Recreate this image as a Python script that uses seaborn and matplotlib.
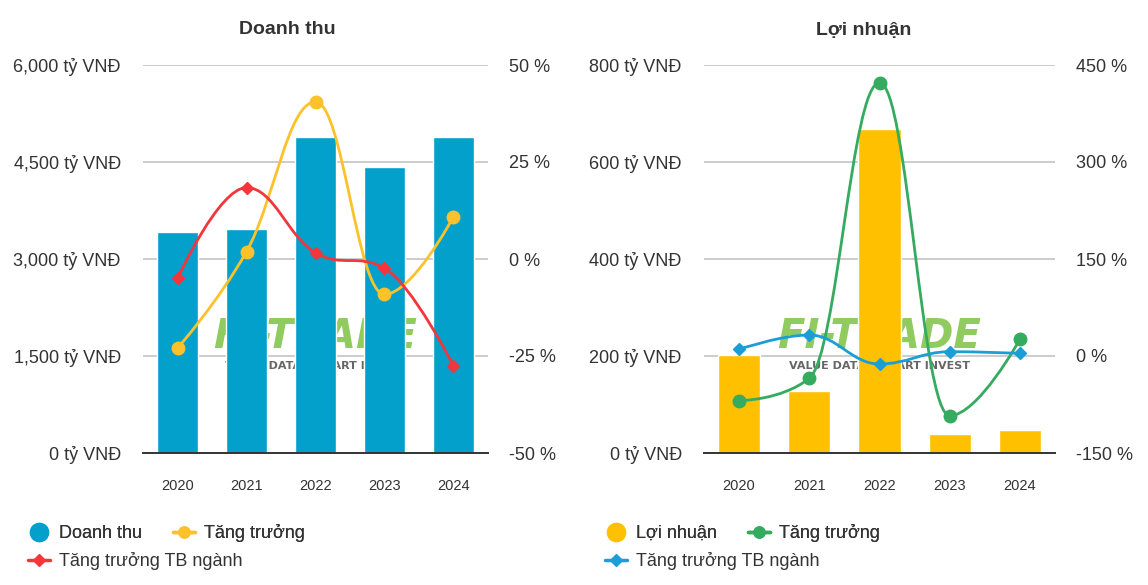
import numpy as np
import matplotlib
matplotlib.use("Agg")
import matplotlib.pyplot as plt
import seaborn as sns
from matplotlib.path import Path
from matplotlib.patches import PathPatch
from matplotlib.lines import Line2D
from matplotlib.ticker import FuncFormatter

# Data
years = ['2020', '2021', '2022', '2023', '2024']
doanh_thu = [3420, 3465, 4880, 4420, 4880]          # tỷ VNĐ
dt_tang_truong = [-23.0, 1.9, 40.5, -9.1, 10.9]     # %
dt_tb_nganh = [-5.0, 18.4, 1.6, -2.4, -27.6]        # %
loi_nhuan = [202, 128, 669, 38.5, 47.4]             # tỷ VNĐ
ln_tang_truong = [-69.0, -34.5, 422.6, -92.3, 25.8]  # %
ln_tb_nganh = [10.3, 32.5, -12.4, 6.7, 4.1]         # %

TEXT = '#333333'
GRID = '#c4c4c4'


def spline_path(xs, ys, s=1.5):
    # cubic bezier path through the points, same smoothing rule as a Highcharts spline
    n = len(xs)
    left = [None] * n
    right = [None] * n
    d = s + 1
    for i in range(1, n - 1):
        x, y = xs[i], ys[i]
        lx, ly = xs[i - 1], ys[i - 1]
        nx, ny = xs[i + 1], ys[i + 1]
        lcx, lcy = (s * x + lx) / d, (s * y + ly) / d
        rcx, rcy = (s * x + nx) / d, (s * y + ny) / d
        if rcx != lcx:
            corr = (rcy - lcy) * (rcx - x) / (rcx - lcx) + y - rcy
            lcy += corr
            rcy += corr
        if lcy > ly and lcy > y:
            lcy = max(ly, y)
            rcy = 2 * y - lcy
        elif lcy < ly and lcy < y:
            lcy = min(ly, y)
            rcy = 2 * y - lcy
        if rcy > ny and rcy > y:
            rcy = max(ny, y)
            lcy = 2 * y - rcy
        elif rcy < ny and rcy < y:
            rcy = min(ny, y)
            lcy = 2 * y - rcy
        left[i] = (lcx, lcy)
        right[i] = (rcx, rcy)
    verts = [(xs[0], ys[0])]
    codes = [Path.MOVETO]
    for i in range(1, n):
        c1 = right[i - 1] or (xs[i - 1], ys[i - 1])
        c2 = left[i] or (xs[i], ys[i])
        verts += [c1, c2, (xs[i], ys[i])]
        codes += [Path.CURVE4] * 3
    return Path(verts, codes)


def draw_panel(fig, rect, title, title_x, bars, bar_color, bar_label, ylim, yticks,
               g1, g1_color, g2, g2_color, ylim2, yticks2, legend_x):
    ax = fig.add_axes(rect)
    ax2 = ax.twinx()
    xs = np.arange(len(years))

    # watermark behind the bars
    ax.text(0.5, 0.248, 'FI-TRADE', transform=ax.transAxes, ha='center', va='bottom',
            fontsize=29, fontweight='heavy', fontstyle='italic', color='#7cc242',
            alpha=0.85, zorder=0, family='DejaVu Sans')
    ax.text(0.5, 0.236, 'VALUE DATA - SMART INVEST', transform=ax.transAxes,
            ha='center', va='top', fontsize=8, fontweight='bold', color='#666666',
            zorder=0, family='DejaVu Sans')

    sns.barplot(x=years, y=bars, ax=ax, color=bar_color, saturation=1,
                width=0.6, zorder=2)
    ax.set_xlim(-0.5, len(years) - 0.5)
    ax.set_ylim(*ylim)
    ax.set_yticks(yticks)
    ax.yaxis.set_major_formatter(FuncFormatter(lambda v, p: f'{v:,.0f} tỷ VNĐ'))
    ax.grid(axis='y', color=GRID, lw=1.2, zorder=1)
    ax.grid(axis='x', visible=False)
    ax.set_axisbelow(True)
    ax.set_xlabel('')
    ax.set_ylabel('')
    for sp in ['top', 'left', 'right']:
        ax.spines[sp].set_visible(False)
    ax.spines['bottom'].set_color('#333333')
    ax.spines['bottom'].set_linewidth(1.4)
    ax.tick_params(axis='y', length=0, pad=16, labelsize=13, labelcolor=TEXT)
    ax.tick_params(axis='x', length=0, pad=19, labelsize=10.5, labelcolor=TEXT)
    fig.text(title_x, 1 - 30 / 585, title, ha='center', va='center',
             fontsize=14, fontweight='bold', color=TEXT)

    ax2.set_ylim(*ylim2)
    ax2.set_yticks(yticks2)
    ax2.yaxis.set_major_formatter(FuncFormatter(lambda v, p: f'{v:.0f} %'))
    ax2.tick_params(axis='y', length=0, pad=15, labelsize=13, labelcolor=TEXT)
    ax2.grid(False)
    for sp in ax2.spines.values():
        sp.set_visible(False)

    # growth line first, industry line on top
    ax2.add_patch(PathPatch(spline_path(xs, g1), facecolor='none',
                            edgecolor=g1_color, lw=2, zorder=3))
    ax2.plot(xs, g1, 'o', color=g1_color, ms=9, zorder=4)
    ax2.add_patch(PathPatch(spline_path(xs, g2), facecolor='none',
                            edgecolor=g2_color, lw=2, zorder=5))
    ax2.plot(xs, g2, 'D', color=g2_color, ms=6, zorder=6)

    h_bar = Line2D([], [], marker='o', ls='none', color=bar_color, ms=13)
    h_g1 = Line2D([], [], marker='o', color=g1_color, lw=2.5, ms=8)
    h_g2 = Line2D([], [], marker='D', color=g2_color, lw=2.5, ms=6)
    opts = dict(loc='center left', frameon=False, fontsize=13, handlelength=1.2,
                handletextpad=0.5, labelcolor=TEXT, borderpad=0, borderaxespad=0)
    leg1 = fig.legend([h_bar, h_g1], [bar_label, 'Tăng trưởng'], ncol=2,
                      columnspacing=1.75, bbox_to_anchor=(legend_x, 1 - 533 / 585), **opts)
    fig.add_artist(leg1)
    fig.legend([h_g2], ['Tăng trưởng TB ngành'],
               bbox_to_anchor=(legend_x, 1 - 561 / 585), **opts)
    return ax, ax2


sns.set_theme(style='white')
plt.rcParams['font.family'] = ['Liberation Sans', 'DejaVu Sans']

fig = plt.figure(figsize=(11.48, 5.85), dpi=100)

draw_panel(fig, [143 / 1148, 1 - 453 / 585, 345 / 1148, 388 / 585],
           'Doanh thu', 287 / 1148, doanh_thu, '#03a0cc', 'Doanh thu',
           (0, 6000), [0, 1500, 3000, 4500, 6000],
           dt_tang_truong, '#fdc12c', dt_tb_nganh, '#f2363b',
           (-50, 50), [-50, -25, 0, 25, 50], 28 / 1148)

draw_panel(fig, [704 / 1148, 1 - 453 / 585, 351 / 1148, 388 / 585],
           'Lợi nhuận', 864 / 1148, loi_nhuan, '#ffc000', 'Lợi nhuận',
           (0, 800), [0, 200, 400, 600, 800],
           ln_tang_truong, '#35ab5f', ln_tb_nganh, '#1b9ed6',
           (-150, 450), [-150, 0, 150, 300, 450], 605 / 1148)

fig.savefig('out.png', dpi=100, facecolor='white')
